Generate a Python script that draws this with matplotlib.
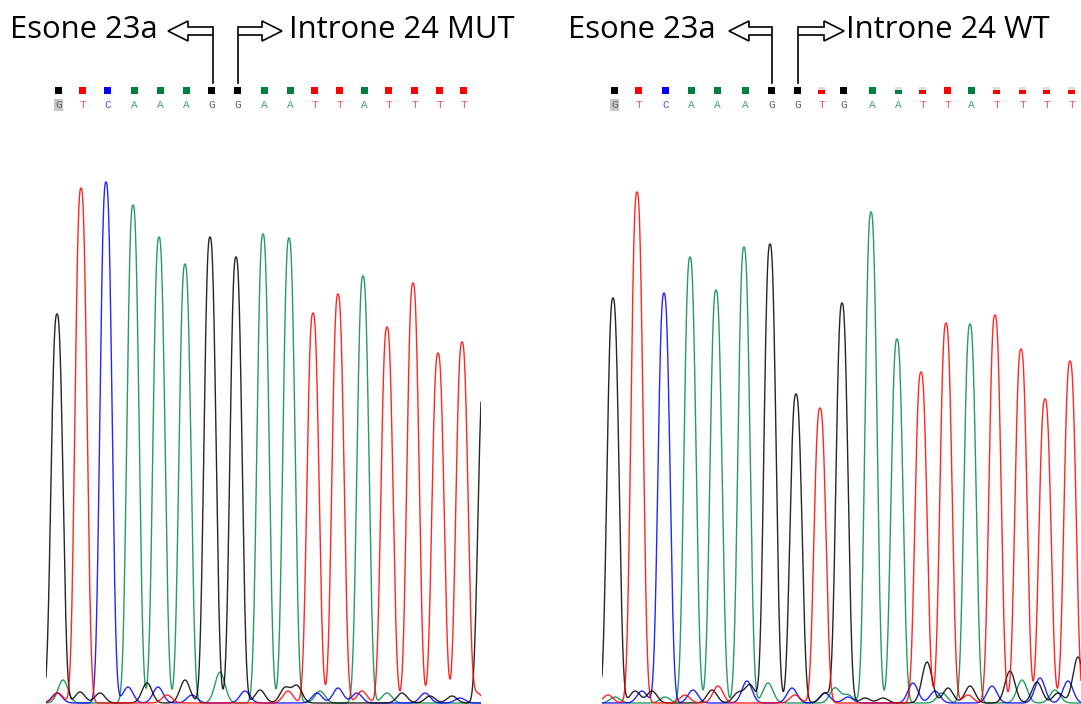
import numpy as np
import matplotlib
matplotlib.use("Agg")
import matplotlib.pyplot as plt
from matplotlib.patches import Rectangle, Polygon
from matplotlib.lines import Line2D

W, H = 1081, 704

# base calls (left = MUT, right = WT)
mut_bases = list("GTCAAAGGAATTATTTT")
wt_bases = list("GTCAAAGGTGAATTATTTT")
# quality of each call (1 = full box)
mut_qual = [1] * 17
wt_qual = [1, 1, 1, 1, 1, 1, 1, 1, 0.55, 1, 1, 0.6, 0.55, 1, 1, 0.6, 0.6, 0.6, 0.6]

# peak positions (scan) and heights (signal)
mut_pos = [11, 35, 60, 87, 113, 139, 164, 190, 217, 243, 267, 292, 317, 341, 367, 392, 416]
mut_h = [389, 515, 521, 498, 466, 439, 466, 446, 469, 465, 390, 409, 427, 376, 420, 350, 361]
wt_pos = [11, 35, 62, 88, 114, 142, 168, 194, 218, 240, 269, 295, 319, 344, 368, 393, 419, 443, 468]
wt_h = [405, 511, 410, 446, 413, 456, 459, 309, 295, 400, 491, 364, 331, 380, 379, 388, 354, 304, 342]

# background signal (pos, height) per dye
mut_bg = {
    "A": [(17, 23), (174, 31), (274, 12), (341, 10)],
    "T": [(12, 10), (121, 8), (242, 12), (316, 12), (431, 10)],
    "C": [(11, 10), (82, 16), (112, 16), (146, 8), (199, 12), (271, 10), (292, 15),
          (311, 10), (379, 10), (414, 5)],
    "G": [(34, 11), (54, 10), (101, 20), (139, 23), (214, 13), (239, 15), (251, 17),
          (356, 10), (384, 7), (406, 7)],
}
# next peak, cut by the right edge of the MUT window
mut_next = ("G", 438, 330)

wt_bg = {
    "T": [(6, 8), (83, 8), (116, 17), (193, 8), (366, 8)],
    "A": [(13, 6), (63, 6), (166, 20), (233, 15), (246, 8), (340, 10), (420, 23), (453, 13)],
    "C": [(40, 12), (91, 13), (145, 22), (190, 15), (223, 10), (246, 6), (311, 20),
          (333, 12), (390, 17), (438, 25), (466, 22)],
    "G": [(33, 12), (50, 12), (110, 13), (136, 10), (148, 18), (223, 10), (263, 5), (281, 5),
          (325, 41), (346, 15), (368, 17), (408, 32), (435, 21), (456, 10), (476, 46)],
}

dye_color = {"G": "#000000", "T": "#ff0000", "C": "#0000ff", "A": "#008a4a"}
box_color = {"G": "#000000", "T": "#ff0000", "C": "#0000ff", "A": "#008040"}
letter_color = {"G": "#606060", "T": "#ff5050", "C": "#5050ff", "A": "#40a070"}


def px(x, y):
    return x / W, 1 - y / H


def peak(xs, p, h):
    return h * np.exp(-np.abs((xs - p) / 7.5) ** 2.6)


def bump(xs, p, h):
    return h * np.exp(-(xs - p) ** 2 / (2 * 5.0 ** 2))


def draw_panel(fig, x0, width, bases, qual, pos, heights, bg, extra=None):
    ax = fig.add_axes([x0 / W, 0, width / W, 554 / H])
    ax.set_xlim(0, width)
    ax.set_ylim(-1, 553)
    ax.axis("off")
    xs = np.arange(0, width + 0.25, 0.25)
    for dye in ["A", "C", "G", "T"]:
        y = np.zeros_like(xs)
        for b, p, h in zip(bases, pos, heights):
            if b == dye:
                y += peak(xs, p, h)
        if extra and extra[0] == dye:
            y += peak(xs, extra[1], extra[2])
        for p, h in bg.get(dye, []):
            y += bump(xs, p, h)
        ax.plot(xs, y, color=dye_color[dye], lw=1.0, alpha=0.85)
    for i, (b, p, q) in enumerate(zip(bases, pos, qual)):
        xc = p + 1.5
        if q < 1:
            ax.add_patch(Rectangle((xc - 3.5, 609), 7, 7, color="#dddddd", clip_on=False, lw=0))
        ax.add_patch(Rectangle((xc - 3.5, 609), 7, 7 * q, color=box_color[b], clip_on=False, lw=0))
        kw = {}
        if i == 0:
            kw["bbox"] = dict(facecolor="#c8c8c8", edgecolor="none", pad=0.8)
        ax.text(xc, 598, b, color=letter_color[b], ha="center", va="center",
                fontsize=8, family="Liberation Mono", clip_on=False, **kw)
    return ax


def bent_arrow(fig, xv, xtip):
    # hollow arrow from the top of a vertical line at xv towards xtip
    s = 1 if xtip > xv else -1
    xb = xtip - 20 * s
    pts = [(xv, 27), (xb, 27), (xb, 21), (xtip, 31), (xb, 41), (xb, 35), (xv, 35)]
    fig.add_artist(Polygon([px(*p) for p in pts], closed=False, facecolor="white",
                           edgecolor="black", lw=1.2, transform=fig.transFigure))
    a, b = px(xv, 27)
    c, d = px(xv, 83)
    fig.add_artist(Line2D([a, c], [b, d], color="black", lw=1.2, transform=fig.transFigure))


fig = plt.figure(figsize=(W / 100, H / 100), dpi=100)
fig.patch.set_facecolor("white")

draw_panel(fig, 46, 435, mut_bases, mut_qual, mut_pos, mut_h, mut_bg, mut_next)
draw_panel(fig, 602, 479, wt_bases, wt_qual, wt_pos, wt_h, wt_bg)

font = dict(fontsize=22.3, family="Open Sans", va="center", ha="left")
fig.text(*px(10, 30), "Esone 23a", **font)
fig.text(*px(289, 30), "Introne 24 MUT", **font)
fig.text(*px(568, 30), "Esone 23a", **font)
fig.text(*px(846, 30), "Introne 24 WT", **font)

bent_arrow(fig, 213, 168)
bent_arrow(fig, 238, 282)
bent_arrow(fig, 772, 729)
bent_arrow(fig, 798, 844)

fig.savefig("out.png", dpi=100)
